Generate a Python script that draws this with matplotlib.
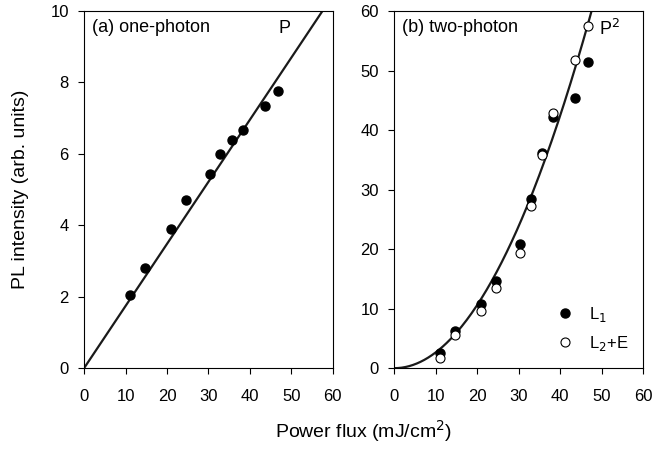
import matplotlib
matplotlib.use("Agg")
import numpy as np
import matplotlib.pyplot as plt

plt.rcParams['font.family'] = ['Liberation Sans', 'DejaVu Sans']

# --- data ---
flux = [11.1, 14.6, 21.0, 24.5, 30.4, 32.9, 35.7, 38.3, 43.7, 46.8]
one_photon = [2.05, 2.8, 3.9, 4.7, 5.45, 6.0, 6.4, 6.68, 7.33, 7.76]
two_photon_L1 = [2.5, 6.2, 10.8, 14.7, 20.8, 28.5, 36.2, 42.2, 45.4, 51.4]
two_photon_L2E = [1.7, 5.5, 9.6, 13.4, 19.3, 27.2, 35.8, 42.8, 51.8, 57.4]

slope_lin = 10 / 57.5    # P fit
coef_sq = 60 / 47.6**2   # P^2 fit

xticks = [0, 10, 20, 30, 40, 50, 60]

fig = plt.figure(figsize=(6.67, 4.49), dpi=100)
ax1 = fig.add_axes([0.126, 0.180, 0.373, 0.7955])
ax2 = fig.add_axes([0.591, 0.180, 0.373, 0.7955])

for ax in (ax1, ax2):
    ax.set_xlim(0, 60)
    ax.set_xticks(xticks)
    ax.tick_params(direction='out', length=4, width=0.8, labelsize=12,
                   top=False, right=False)
    ax.tick_params(axis='x', pad=11)
    ax.tick_params(axis='y', pad=7)
    for s in ax.spines.values():
        s.set_linewidth(0.8)

# (a) one-photon
xx = np.linspace(0, 60, 200)
ax1.plot(xx, slope_lin * xx, color='#1a1a1a', lw=1.6)
ax1.plot(flux, one_photon, 'o', color='black', ms=6.5)
ax1.set_ylim(0, 10)
ax1.set_yticks([0, 2, 4, 6, 8, 10])
ax1.text(2.0, 9.55, '(a) one-photon', fontsize=13, va='center')
ax1.text(46.8, 9.5, 'P', fontsize=13, va='center')

# (b) two-photon
ax2.plot(xx, coef_sq * xx**2, color='#1a1a1a', lw=1.6)
ax2.plot(flux, two_photon_L1, 'o', color='black', ms=6.5, label='L$_1$')
ax2.plot(flux, two_photon_L2E, 'o', mfc='white', mec='black', mew=0.8, ms=6.5,
         label='L$_2$+E')
ax2.set_ylim(0, 60)
ax2.set_yticks([0, 10, 20, 30, 40, 50, 60])
ax2.text(2.0, 57.3, '(b) two-photon', fontsize=13, va='center')
ax2.text(49.5, 57.0, 'P$^2$', fontsize=13, va='center')
ax2.legend(loc='lower right', frameon=False, fontsize=12, handletextpad=0.4,
           borderaxespad=0.5, labelspacing=0.6)

fig.text(0.031, 0.5775, 'PL intensity (arb. units)', rotation=90,
         ha='center', va='center', fontsize=14)
fig.text(0.545, 0.04, 'Power flux (mJ/cm$^2$)', ha='center', va='center',
         fontsize=14)

fig.savefig('out.png', dpi=100)
